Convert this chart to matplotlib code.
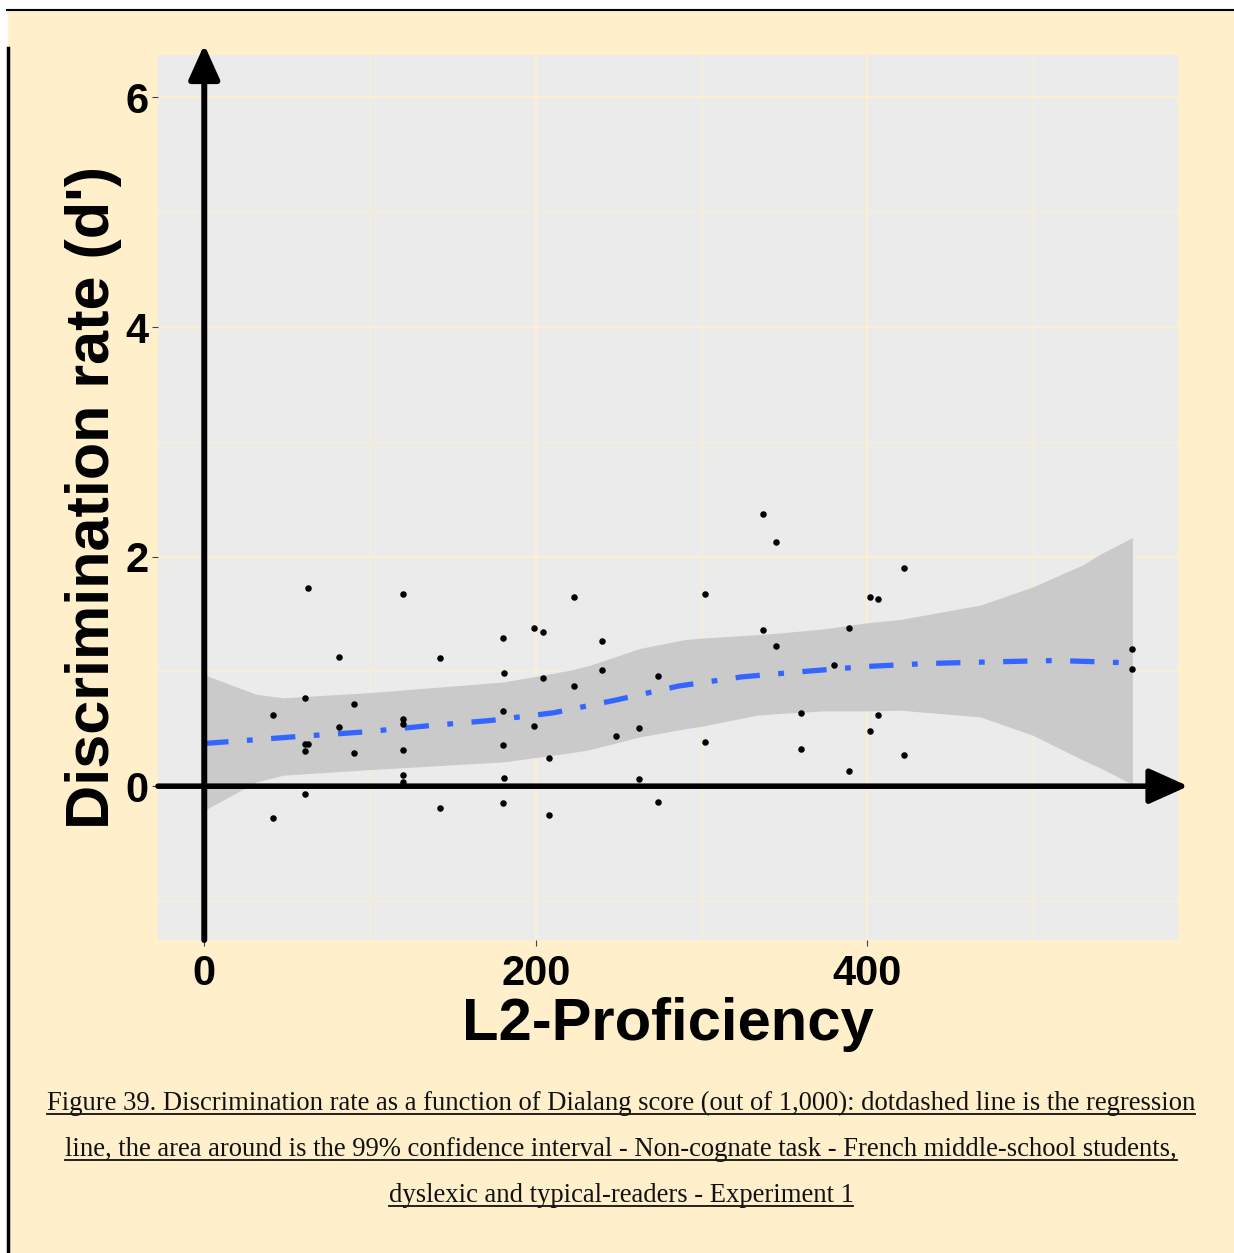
import matplotlib
matplotlib.use("Agg")
import matplotlib.pyplot as plt
from matplotlib.lines import Line2D

# Datos: puntaje Dialang vs tasa de discriminacion (d')
puntaje = [62.5, 119.9, 180.2, 198.9, 204.6, 81.2, 142.0, 180.8, 204.6, 61.0,
           90.1, 41.6, 180.2, 119.9, 119.9, 81.1, 198.9, 61.0, 62.6, 61.0,
           90.1, 119.9, 180.2, 208.0, 119.9, 119.9, 180.8, 61.0, 41.6, 142.0,
           180.2, 208.0, 223.2, 239.7, 239.7, 223.2, 273.6, 248.1, 262.0, 262.0,
           273.6, 302.0, 302.0, 336.8, 345.0, 336.8, 345.0, 359.7, 359.7, 379.6,
           388.7, 388.7, 401.7, 406.2, 406.2, 401.7, 421.8, 421.8, 559.8, 559.8]
dprime = [1.725, 1.675, 1.295, 1.376, 1.344, 1.124, 1.115, 0.984, 0.943, 0.772,
          0.714, 0.616, 0.653, 0.584, 0.543, 0.514, 0.523, 0.366, 0.366, 0.305,
          0.285, 0.316, 0.363, 0.247, 0.096, 0.035, 0.067, -0.064, -0.276, -0.194,
          -0.145, -0.255, 1.646, 1.263, 1.013, 0.874, 0.964, 0.436, 0.505, 0.064,
          -0.136, 1.675, 0.386, 2.375, 2.125, 1.364, 1.224, 0.636, 0.325, 1.054,
          1.376, 0.133, 1.646, 1.635, 0.616, 0.485, 1.905, 0.276, 1.193, 1.025]

# Linea de regresion (loess)
reg_x = [0, 19.7, 58.7, 97, 134.1, 172.3, 210.5, 247.8, 285.9, 324.1, 361.3,
         399.5, 436.7, 474.9, 514.1, 559.8]
reg_y = [0.372, 0.393, 0.435, 0.473, 0.525, 0.572, 0.639, 0.749, 0.872, 0.952,
         0.999, 1.043, 1.069, 1.083, 1.095, 1.074]

# Intervalo de confianza 99%
ic_x = [0, 31.6, 47.7, 100.5, 180.5, 220.6, 232.7, 262.8, 290, 300.2, 333.2,
        343.4, 373.4, 400, 419.7, 455.8, 468, 499.7, 530.2, 540.2, 559.8]
ic_sup = [0.97, 0.80, 0.77, 0.816, 0.908, 1.01, 1.054, 1.20, 1.278, 1.29, 1.32,
          1.33, 1.37, 1.424, 1.452, 1.546, 1.577, 1.736, 1.93, 2.02, 2.166]
ic_inf = [-0.21, 0.038, 0.096, 0.145, 0.212, 0.29, 0.319, 0.43, 0.50, 0.523,
          0.618, 0.63, 0.656, 0.656, 0.662, 0.618, 0.604, 0.444, 0.226, 0.16, 0.017]

titulo_lineas = [
    "Figure 39. Discrimination rate as a function of Dialang score (out of 1,000): dotdashed line is the regression",
    "line, the area around is the 99% confidence interval - Non-cognate task - French middle-school students,",
    "dyslexic and typical-readers - Experiment 1",
]

W, H = 1234, 1253
fondo = '#FFF0CB'
fig = plt.figure(figsize=(W / 100, H / 100), dpi=100)
fig.patch.set_facecolor(fondo)

ax = fig.add_axes([158 / W, 1 - 940 / H, (1178 - 158) / W, (940 - 55) / H])
ax.set_facecolor('#EBEBEB')
for s in ax.spines.values():
    s.set_visible(False)

ax.set_xlim(-27.9, 587.3)
ax.set_ylim(-1.34, 6.37)

# Rejilla
for v in [100, 300, 500]:
    ax.axvline(v, color=fondo, lw=0.7, zorder=0.5)
for v in [0, 200, 400]:
    ax.axvline(v, color=fondo, lw=1.3, zorder=0.5)
for v in [-1, 1, 3, 5]:
    ax.axhline(v, color=fondo, lw=0.7, zorder=0.5)
for v in [0, 2, 4, 6]:
    ax.axhline(v, color=fondo, lw=1.3, zorder=0.5)

ax.fill_between(ic_x, ic_inf, ic_sup, color='#CACACA', lw=0, zorder=1)
linea, = ax.plot(reg_x, reg_y, color='#3366FF', lw=3.8, zorder=3,
                 solid_capstyle='butt', dash_capstyle='butt')
linea.set_dashes((4.6, 3.5, 1.1, 3.5))
ax.scatter(puntaje, dprime, s=22, color='black', lw=0, zorder=4)

# Ejes con flechas
estilo = '-|>,head_length=1.0,head_width=0.45'
ax.annotate('', xy=(0, 6.46), xytext=(0, -1.34),
            arrowprops=dict(arrowstyle=estilo, lw=4.3, color='black',
                            mutation_scale=21, shrinkA=0, shrinkB=0),
            annotation_clip=False, zorder=5)
ax.annotate('', xy=(593.5, 0), xytext=(-27.9, 0),
            arrowprops=dict(arrowstyle=estilo, lw=4.0, color='black',
                            mutation_scale=24, shrinkA=0, shrinkB=0),
            annotation_clip=False, zorder=5)

fuente = 'Liberation Sans'
ax.set_xticks([0, 200, 400])
ax.set_yticks([0, 2, 4, 6])
ax.tick_params(length=4, width=0.8, color='#444444')
ax.tick_params(axis='y', pad=3)
ax.tick_params(axis='x', pad=6)
for t in ax.get_xticklabels() + ax.get_yticklabels():
    t.set_fontfamily(fuente)
    t.set_fontweight('bold')
    t.set_fontsize(30)

ax.set_xlabel('L2-Proficiency', fontfamily=fuente, fontweight='bold',
              fontsize=43, labelpad=2)
ax.set_ylabel("Discrimination rate (d')", fontfamily=fuente, fontweight='bold',
              fontsize=44, labelpad=2)

# Marco
fig.add_artist(Line2D([7 / W, 1], [1 - 9.5 / H, 1 - 9.5 / H], color='black', lw=1.5))
fig.add_artist(Line2D([8 / W, 8 / W], [0, 1 - 48 / H], color='black', lw=2.5))
fig.add_artist(plt.Rectangle((0, 1 - 9 / H), 1, 9 / H, transform=fig.transFigure,
                             color='white', zorder=-1))
fig.add_artist(plt.Rectangle((0, 0), 7 / W, 1, transform=fig.transFigure,
                             color='white', zorder=-1))

# Leyenda subrayada
renderer = fig.canvas.get_renderer()
for i, linea_txt in enumerate(titulo_lineas):
    yb = 1 - (1110 + 46 * i) / H
    t = fig.text(621 / W, yb, linea_txt, ha='center', va='baseline',
                 fontfamily='Liberation Serif', fontsize=19.2, color='#111111')
    bb = t.get_window_extent(renderer)
    yu = yb - 4 / H
    fig.add_artist(Line2D([bb.x0 / W, bb.x1 / W], [yu, yu], color='#111111', lw=1.3))

fig.savefig('out.png', dpi=100, facecolor=fig.get_facecolor())
